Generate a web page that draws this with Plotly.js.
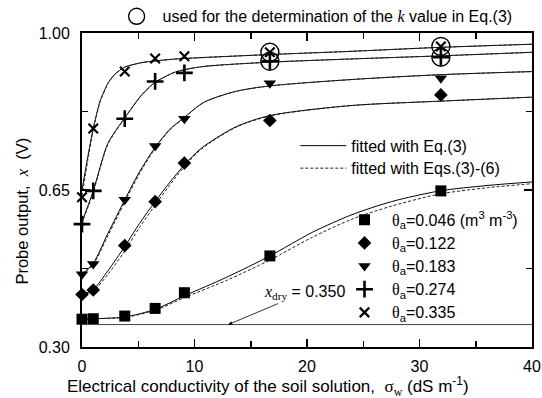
<!DOCTYPE html>
<html>
<head>
<meta charset="utf-8">
<script src="https://cdn.plot.ly/plotly-3.0.1.min.js"></script>
<style>
  html, body { margin: 0; padding: 0; background: #fff; }
  #chart { width: 542px; height: 398px; }
</style>
</head>
<body>
<div id="chart"></div>
<script>
// Measured probe output x (V) against soil-solution EC sigma_w (dS m-1)
const sigmaW   = [0, 1.0, 3.8, 6.5, 9.1, 16.7, 31.9];
const probe046 = [0.362, 0.363, 0.369, 0.386, 0.421, 0.503, 0.648];
const probe122 = [0.417, 0.427, 0.526, 0.624, 0.710, 0.805, 0.862];
const probe183 = [0.462, 0.485, 0.628, 0.748, 0.809, 0.888, 0.899];
const probe274 = [0.574, 0.648, 0.809, 0.892, 0.911, 0.937, 0.946];
const probe335 = [0.634, 0.787, 0.914, 0.943, 0.948, 0.957, 0.970];

// Points used to determine k in Eq.(3)
const kSigma = [16.7, 16.7, 31.9, 31.9];
const kProbe = [0.957, 0.937, 0.970, 0.946];

// Fitted curves: Eq.(3) (solid) and Eqs.(3)-(6) (dashed)
const fit046Sigma = [0, 1, 3.8, 6.5, 9.1, 12.9, 16.7, 20.5, 24, 27.5, 31.8, 36, 40];
const fit046Eq3   = [0.362, 0.363, 0.367, 0.384, 0.414, 0.456, 0.503, 0.556, 0.595, 0.624, 0.648, 0.660, 0.668];
const fit046Eqs36 = [0.362, 0.363, 0.366, 0.382, 0.410, 0.449, 0.494, 0.545, 0.585, 0.614, 0.641, 0.655, 0.664];

const fit122Sigma = [0, 1, 2.3, 3.8, 5.1, 6.5, 7.8, 9.1, 10.6, 13.7, 16.7, 23.8, 31.8, 40];
const fit122Eq3   = [0.417, 0.428, 0.470, 0.524, 0.575, 0.624, 0.667, 0.706, 0.743, 0.791, 0.816, 0.838, 0.848, 0.857];
const fit122Eqs36 = [0.417, 0.425, 0.462, 0.514, 0.566, 0.616, 0.661, 0.702, 0.741, 0.790, 0.815, 0.838, 0.848, 0.857];

const fit183Sigma = [0, 1, 2.3, 3.8, 5.1, 6.5, 7.8, 9.1, 10.8, 13.7, 16.7, 23.8, 31.8, 40];
const fit183Eq3   = [0.462, 0.487, 0.553, 0.628, 0.690, 0.745, 0.785, 0.812, 0.845, 0.870, 0.882, 0.896, 0.907, 0.914];
const fit183Eqs36 = [0.462, 0.484, 0.548, 0.623, 0.686, 0.743, 0.784, 0.811, 0.845, 0.870, 0.882, 0.896, 0.907, 0.914];

const fit274Sigma = [0, 1, 2.3, 3.8, 5.3, 6.5, 8.3, 10.7, 16.7, 23.8, 31.8, 40];
const fit274Eq3   = [0.579, 0.648, 0.754, 0.811, 0.862, 0.890, 0.913, 0.925, 0.935, 0.942, 0.949, 0.957];
const fit274Eqs36 = [0.576, 0.645, 0.752, 0.810, 0.861, 0.890, 0.913, 0.925, 0.935, 0.942, 0.949, 0.957];

const fit335Sigma = [0, 0.5, 1, 1.6, 2.3, 2.9, 3.8, 5.3, 8.3, 16.7, 23.8, 31.8, 40];
const fit335Eq3   = [0.650, 0.722, 0.788, 0.848, 0.888, 0.908, 0.924, 0.934, 0.942, 0.952, 0.959, 0.968, 0.975];
const fit335Eqs36 = [0.636, 0.714, 0.785, 0.846, 0.887, 0.907, 0.924, 0.934, 0.942, 0.952, 0.959, 0.968, 0.975];

const xDry = 0.350;

const xTickVals = [0, 10, 20, 30, 40];
const xMinorVals = [5, 15, 25, 35];
const yTickVals = [0.30, 0.65, 1.00];
const yTickText = ['0.30', '0.65', '1.00'];
const yMinorVals = [0.475, 0.825];

const seriesLabels = ['0.046 (m<sup>3</sup> m<sup>-3</sup>)', '0.122', '0.183', '0.274', '0.335'];

const SANS = 'Liberation Sans, Arial, sans-serif';
const SERIF = 'Liberation Serif, Times New Roman, serif';
const theta = '<span style="font-family:' + SERIF + '">θ</span><sub>a</sub>=';
const big = s => '<span style="font-size:16px">' + s + '</span>';

const fits = [
  [fit046Sigma, fit046Eq3, fit046Eqs36, 0.8],
  [fit122Sigma, fit122Eq3, fit122Eqs36, 0.8],
  [fit183Sigma, fit183Eq3, fit183Eqs36, 0.8],
  [fit274Sigma, fit274Eq3, fit274Eqs36, 0.7],
  [fit335Sigma, fit335Eq3, fit335Eqs36, 0.5]
];

const traces = [];
fits.forEach((f, i) => {
  traces.push({
    x: f[0], y: f[1], mode: 'lines', type: 'scatter',
    line: {color: '#000', width: 1, shape: 'spline', smoothing: f[3]},
    name: big('fitted with Eq.(3)'), legendgroup: 'eq3',
    showlegend: i === 0, legend: 'legend', hoverinfo: 'skip'
  });
  traces.push({
    x: f[0], y: f[2], mode: 'lines', type: 'scatter',
    line: {color: '#222', width: 1, dash: '3px,2px', shape: 'spline', smoothing: f[3]},
    name: big('fitted with Eqs.(3)-(6)'), legendgroup: 'eq36',
    showlegend: i === 0, legend: 'legend', hoverinfo: 'skip'
  });
});

const pointSets = [
  {y: probe046, marker: {symbol: 'square', size: 11, color: '#000'}},
  {y: probe122, marker: {symbol: 'diamond', size: 10.5, color: '#000'}},
  {y: probe183, marker: {symbol: 'triangle-down', size: 11, color: '#000'}},
  {y: probe274, marker: {symbol: 'cross-thin', size: 12, color: '#000', line: {width: 2.6, color: '#000'}}},
  {y: probe335, marker: {symbol: 'x-thin', size: 9.5, color: '#000', line: {width: 2.2, color: '#000'}}}
];
pointSets.forEach((p, i) => {
  traces.push({
    x: sigmaW, y: p.y, mode: 'markers', type: 'scatter',
    marker: p.marker, name: big(theta + seriesLabels[i]),
    legend: 'legend2', cliponaxis: false
  });
});

traces.push({
  x: kSigma, y: kProbe, mode: 'markers', type: 'scatter',
  marker: {symbol: 'circle-open', size: 18, color: '#000', line: {width: 1.4, color: '#000'}},
  name: big('used for the determination of the <span style="font-family:' + SERIF + '"><i>k</i></span> value in Eq.(3)'),
  legend: 'legend3', cliponaxis: false
});

const axisCommon = {
  showline: true, linewidth: 2, linecolor: '#000', mirror: 'allticks',
  ticks: 'inside', ticklen: 8, tickwidth: 1.5, tickcolor: '#000',
  showgrid: false, zeroline: false,
  tickfont: {family: SANS, size: 16, color: '#000'}
};

const layout = {
  width: 542, height: 398,
  margin: {l: 82, r: 10, t: 33, b: 51, autoexpand: false},
  paper_bgcolor: '#fff', plot_bgcolor: '#fff',
  font: {family: SANS, size: 16, color: '#000'},
  xaxis: Object.assign({}, axisCommon, {
    range: [0, 40], tickmode: 'array', tickvals: xTickVals,
    ticklabelstandoff: 4,
    minor: {tickmode: 'array', tickvals: xMinorVals, ticks: 'inside', ticklen: 6, tickwidth: 1.5, tickcolor: '#000', showgrid: false}
  }),
  yaxis: Object.assign({}, axisCommon, {
    range: [0.30, 1.00], tickmode: 'array', tickvals: yTickVals, ticktext: yTickText,
    ticklabelstandoff: 7,
    minor: {tickmode: 'array', tickvals: yMinorVals, ticks: 'inside', ticklen: 6, tickwidth: 1.5, tickcolor: '#000', showgrid: false}
  }),
  showlegend: true,
  legend: {
    x: 0.474, y: 0.693, xanchor: 'left', yanchor: 'top',
    bgcolor: 'rgba(0,0,0,0)', borderwidth: 0, itemwidth: 46,
    font: {family: SANS, size: 15, color: '#000'}, tracegroupgap: 0
  },
  legend2: {
    x: 0.5667, y: 0.458, xanchor: 'left', yanchor: 'top',
    bgcolor: 'rgba(0,0,0,0)', borderwidth: 0, itemwidth: 45,
    font: {family: SANS, size: 15.5, color: '#000'}, tracegroupgap: 0
  },
  legend3: {
    x: 0.0636, y: 1.105, xanchor: 'left', yanchor: 'top',
    bgcolor: 'rgba(0,0,0,0)', borderwidth: 0, itemwidth: 42,
    font: {family: SANS, size: 15, color: '#000'}
  },
  shapes: [{
    type: 'line', xref: 'paper', yref: 'y', x0: 0, x1: 1, y0: xDry, y1: xDry,
    line: {color: '#444', width: 1}
  }],
  annotations: [
    {
      x: 13.0, y: xDry, xref: 'x', yref: 'y',
      ax: 76, ay: -32, axref: 'pixel', ayref: 'pixel',
      text: '<span style="font-family:' + SERIF + '"><i>x</i><sub>dry</sub></span> = ' + xDry.toFixed(3),
      showarrow: true, arrowhead: 2, arrowsize: 1, arrowwidth: 0.8, arrowcolor: '#000',
      font: {family: SANS, size: 16, color: '#000'}
    },
    {
      xref: 'paper', yref: 'paper', x: (21.6 - 82) / 450, y: (347 - 211) / 314,
      xanchor: 'center', yanchor: 'middle', textangle: -90, showarrow: false,
      text: 'Probe output,  <span style="font-family:' + SERIF + '"><i>x</i></span>  (V)',
      font: {family: SANS, size: 16.5, color: '#000'}
    },
    {
      xref: 'paper', yref: 'paper', x: (268 - 82) / 450, y: (347 - 386) / 314,
      xanchor: 'center', yanchor: 'middle', showarrow: false,
      text: 'Electrical conductivity of the soil solution,  <span style="font-family:' + SERIF + '">σ<sub>w</sub></span> (dS m<sup>-1</sup>)',
      font: {family: SANS, size: 17, color: '#000'}
    }
  ]
};

Plotly.newPlot('chart', traces, layout, {staticPlot: true, displayModeBar: false});
</script>
</body>
</html>
